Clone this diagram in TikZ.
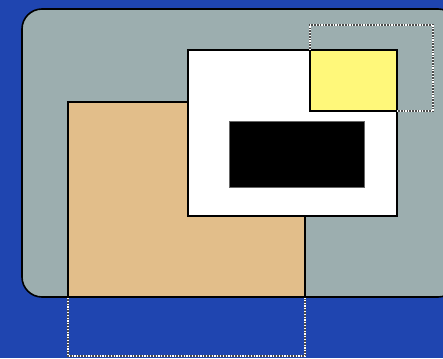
\documentclass[tikz,border=0pt]{standalone}
\definecolor{bgblue}{RGB}{31,69,176}
\definecolor{panelgray}{RGB}{156,174,175}
\definecolor{tan}{RGB}{226,190,138}
\definecolor{paleyellow}{RGB}{255,248,122}
\tikzset{
  edge/.style={draw=black, line width=1.6pt},
  dotbox/.style={draw=white, line width=1.2pt, dash pattern=on 1.2pt off 1.6pt},
  dotbase/.style={draw=black!70, line width=1.4pt}
}
\begin{document}
\begin{tikzpicture}[x=1pt,y=-1pt]
\useasboundingbox (0,0) rectangle (443,358);
\fill[bgblue] (0,0) rectangle (443,358);
\begin{scope}
\clip (0,0) rectangle (443,358);
\filldraw[fill=panelgray, edge, rounded corners=20pt] (22,9) rectangle (458,297);
\end{scope}
\filldraw[fill=tan, edge] (68,102) rectangle (305,297);
\filldraw[fill=white, edge] (188,50) rectangle (397,216);
\filldraw[fill=paleyellow, edge] (310,50) rectangle (397,111);
\filldraw[fill=black, draw=black!60, line width=0.6pt] (229,121) rectangle (364,187);
% dotted outlines
\draw[dotbase] (310,50) -- (310,25) -- (433,25) -- (433,111) -- (397,111);
\draw[dotbox] (310,50) -- (310,25) -- (433,25) -- (433,111) -- (397,111);
\draw[dotbase] (68,298) -- (68,356) -- (305,356) -- (305,298);
\draw[dotbox] (68,298) -- (68,356) -- (305,356) -- (305,298);
\end{tikzpicture}
\end{document}
